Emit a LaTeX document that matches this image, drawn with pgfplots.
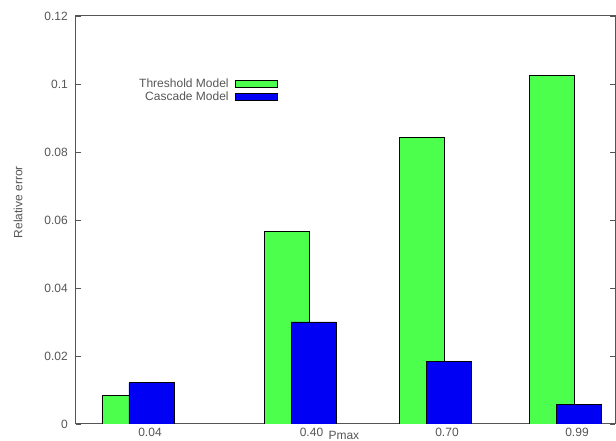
\documentclass[border=0pt]{standalone}
\usepackage{pgfplots}
\pgfplotsset{compat=1.18}
\usepackage{fontspec}
\setmainfont{Liberation Sans}
\definecolor{tgreen}{RGB}{77,255,77}
\definecolor{cblue}{RGB}{0,0,245}
\definecolor{axgray}{RGB}{85,85,85}
\begin{document}
\fontsize{12}{14}\selectfont
\begin{tikzpicture}
\useasboundingbox (-76pt,-17pt) rectangle (540pt,424pt);
\begin{axis}[
  at={(0,0)}, anchor=south west,
  scale only axis, width=539pt, height=408pt,
  xmin=76, xmax=615, ymin=0, ymax=0.12,
  axis line style={axgray, line width=1pt},
  ytick={0,0.02,0.04,0.06,0.08,0.1,0.12},
  yticklabels={0,0.02,0.04,0.06,0.08,0.1,0.12},
  ytick style={axgray, line width=0.8pt},
  major tick length=5pt,
  xtick={150,311.5,447,577},
  xticklabels={0.04,0.40,0.70,0.99},
  xtick style={draw=none},
  /pgf/number format/assume math mode=true,
  tick label style={text=axgray, font=\fontsize{12}{14}\selectfont},
  yticklabel style={xshift=-4pt},
  ylabel={Relative error},
  ylabel style={at={(axis description cs:-0.1076,0.544)}, anchor=center, text=axgray, font=\fontsize{12}{14}\selectfont},
  xlabel={Pmax},
  xlabel style={at={(axis description cs:0.497,0)}, anchor=center, yshift=-11.5pt, text=axgray, font=\fontsize{12}{14}\selectfont},
  legend plot pos=right,
  legend cell align=right,
  legend image code/.code={\draw[#1] (0pt,-3.5pt) rectangle (42pt,3.5pt);},
  legend style={at={(axis description cs:0.375,0.849)}, anchor=north east, draw=none, fill=none,
    inner sep=0pt, row sep=0pt,
    nodes={inner sep=0.5pt, text height=9pt, text depth=3pt, text=axgray},
    /tikz/every odd column/.append style={column sep=6pt},
    font=\fontsize{12}{14}\selectfont},
]
\addplot[ybar, bar width=45, bar shift=0pt, fill=tgreen, draw=black, line width=0.8pt]
  coordinates {(124.5,0.0085) (286.5,0.0565) (421.5,0.0844) (551.5,0.1026)};
\addplot[ybar, bar width=45, bar shift=0pt, fill=cblue, draw=black, line width=0.8pt]
  coordinates {(151.5,0.0121) (313.5,0.030) (448.5,0.0185) (578.5,0.0057)};
\legend{Threshold Model, Cascade Model}
\end{axis}
\end{tikzpicture}
\end{document}
